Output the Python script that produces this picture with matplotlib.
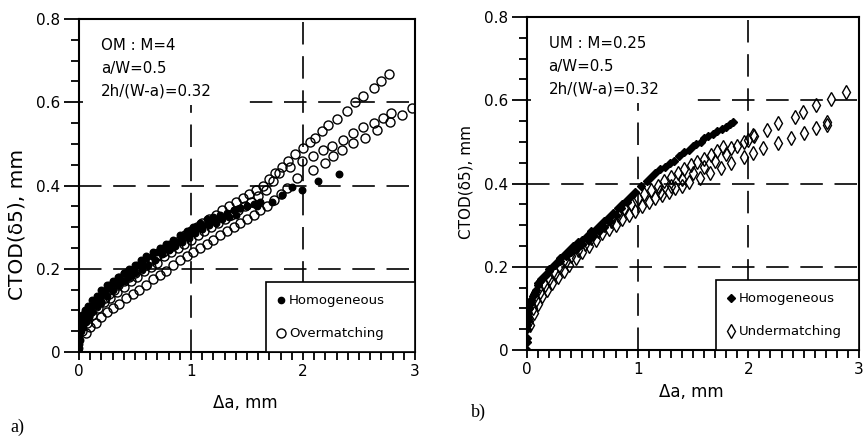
import matplotlib
matplotlib.use("Agg")
import matplotlib.pyplot as plt
from matplotlib.patches import Rectangle
from matplotlib.lines import Line2D
from matplotlib.ticker import MultipleLocator, FixedLocator

plt.rcParams['font.family'] = ['DejaVu Sans']

# ---------------- Panel a) : overmatching ----------------
a_hom1_x = [0, 0, 0, 0.01, 0.01, 0.02, 0.03, 0.04, 0.05, 0.07, 0.09, 0.11, 0.13, 0.15, 0.18, 0.21, 0.24,
            0.27, 0.30, 0.33, 0.36, 0.40, 0.44, 0.48, 0.52, 0.56, 0.60, 0.65, 0.70, 0.75, 0.80, 0.85, 0.90,
            0.95, 1.00, 1.05, 1.10, 1.15, 1.20, 1.26, 1.32, 1.38, 1.44, 1.50, 1.59, 1.72, 1.81, 1.90, 1.99,
            2.13, 2.32]
a_hom1_y = [0.0, 0.02, 0.04, 0.05, 0.07, 0.08, 0.085, 0.09, 0.095, 0.10, 0.105, 0.11, 0.115, 0.12, 0.13,
            0.14, 0.15, 0.16, 0.165, 0.17, 0.18, 0.19, 0.195, 0.20, 0.21, 0.215, 0.225, 0.23, 0.24, 0.25,
            0.26, 0.265, 0.27, 0.28, 0.29, 0.30, 0.305, 0.31, 0.32, 0.325, 0.33, 0.34, 0.345, 0.35, 0.35,
            0.36, 0.377, 0.397, 0.39, 0.41, 0.428]
a_hom2_x = [0, 0, 0.01, 0.02, 0.03, 0.05, 0.08, 0.12, 0.16, 0.20, 0.25, 0.30, 0.35, 0.40, 0.45, 0.50, 0.55,
            0.60, 0.66, 0.72, 0.78, 0.84, 0.90, 0.96, 1.02, 1.08, 1.14, 1.20, 1.26, 1.32, 1.38, 1.44, 1.50,
            1.56, 1.62]
a_hom2_y = [0.03, 0.06, 0.065, 0.08, 0.09, 0.10, 0.11, 0.125, 0.135, 0.15, 0.16, 0.17, 0.18, 0.19, 0.20,
            0.21, 0.22, 0.23, 0.24, 0.25, 0.26, 0.27, 0.28, 0.29, 0.30, 0.31, 0.32, 0.325, 0.33, 0.335,
            0.34, 0.345, 0.35, 0.355, 0.36]
a_hom3_x = [0, 0.01, 0.02, 0.04, 0.06, 0.09, 0.12, 0.16, 0.20, 0.25, 0.30, 0.35, 0.40, 0.45, 0.50, 0.56,
            0.62, 0.68, 0.74, 0.80, 0.86, 0.92, 0.98, 1.04, 1.10, 1.16, 1.22, 1.28, 1.34, 1.40]
a_hom3_y = [0.01, 0.03, 0.05, 0.06, 0.075, 0.085, 0.095, 0.11, 0.12, 0.135, 0.15, 0.16, 0.17, 0.18, 0.19,
            0.20, 0.21, 0.22, 0.235, 0.245, 0.255, 0.265, 0.275, 0.285, 0.295, 0.305, 0.31, 0.32, 0.325,
            0.33]

a_om1_x = [0.02, 0.05, 0.08, 0.11, 0.15, 0.19, 0.23, 0.27, 0.31, 0.35, 0.40, 0.45, 0.50, 0.55, 0.60, 0.65,
           0.70, 0.75, 0.80, 0.85, 0.90, 0.95, 1.00, 1.05, 1.10, 1.16, 1.22, 1.28, 1.34, 1.40, 1.46, 1.52,
           1.58, 1.64, 1.70, 1.75, 1.81, 1.87, 1.93, 2.00, 2.06, 2.11, 2.17, 2.22, 2.30, 2.39, 2.46, 2.54,
           2.63, 2.70, 2.77]
a_om1_y = [0.06, 0.075, 0.09, 0.10, 0.11, 0.12, 0.13, 0.14, 0.15, 0.16, 0.17, 0.18, 0.19, 0.20, 0.21, 0.22,
           0.23, 0.24, 0.25, 0.26, 0.27, 0.28, 0.29, 0.30, 0.31, 0.32, 0.33, 0.34, 0.35, 0.36, 0.37, 0.38,
           0.39, 0.40, 0.415, 0.43, 0.445, 0.46, 0.475, 0.49, 0.505, 0.515, 0.53, 0.545, 0.56, 0.58, 0.60,
           0.615, 0.635, 0.65, 0.668]
a_om2_x = [0.03, 0.07, 0.12, 0.17, 0.22, 0.28, 0.34, 0.40, 0.46, 0.52, 0.58, 0.64, 0.70, 0.76, 0.82, 0.88,
           0.94, 1.00, 1.06, 1.12, 1.18, 1.24, 1.30, 1.36, 1.42, 1.48, 1.54, 1.60, 1.67, 1.73, 1.79, 1.88,
           1.99, 2.09, 2.18, 2.26, 2.36, 2.45, 2.54, 2.63, 2.71, 2.79, 2.88, 2.97]
a_om2_y = [0.05, 0.07, 0.09, 0.105, 0.12, 0.13, 0.145, 0.155, 0.17, 0.18, 0.195, 0.205, 0.215, 0.23, 0.24,
           0.25, 0.26, 0.27, 0.28, 0.29, 0.30, 0.31, 0.32, 0.33, 0.34, 0.35, 0.36, 0.375, 0.39, 0.41, 0.43,
           0.445, 0.46, 0.47, 0.485, 0.495, 0.51, 0.525, 0.54, 0.55, 0.562, 0.574, 0.57, 0.586]
a_om3_x = [0.06, 0.10, 0.15, 0.20, 0.25, 0.30, 0.36, 0.42, 0.48, 0.54, 0.60, 0.66, 0.72, 0.78, 0.84, 0.90,
           0.96, 1.02, 1.08, 1.14, 1.20, 1.26, 1.32, 1.38, 1.44, 1.50, 1.56, 1.62, 1.68, 1.74, 1.80, 1.86,
           1.95, 2.09, 2.20, 2.27, 2.35, 2.45, 2.55, 2.66, 2.78]
a_om3_y = [0.045, 0.06, 0.07, 0.085, 0.095, 0.105, 0.115, 0.13, 0.14, 0.15, 0.16, 0.175, 0.185, 0.195,
           0.21, 0.22, 0.23, 0.24, 0.25, 0.26, 0.27, 0.28, 0.29, 0.30, 0.31, 0.32, 0.33, 0.34, 0.35, 0.365,
           0.38, 0.395, 0.418, 0.437, 0.454, 0.47, 0.486, 0.502, 0.514, 0.534, 0.553]

# ---------------- Panel b) : undermatching ----------------
b_hom1_x = [0, 0, 0, 0.01, 0.01, 0.02, 0.03, 0.04, 0.05, 0.06, 0.08, 0.10, 0.12, 0.14, 0.17, 0.20, 0.23,
            0.26, 0.30, 0.34, 0.38, 0.42, 0.46, 0.50, 0.54, 0.58, 0.62, 0.66, 0.70, 0.74, 0.78, 0.82, 0.86,
            0.90, 0.94, 0.98, 1.03, 1.08, 1.12, 1.16, 1.20, 1.25, 1.29, 1.33, 1.37, 1.42, 1.46, 1.50, 1.53,
            1.57, 1.60, 1.64, 1.68, 1.72, 1.76, 1.80, 1.83, 1.86]
b_hom1_y = [0.0, 0.03, 0.05, 0.07, 0.09, 0.10, 0.11, 0.12, 0.13, 0.135, 0.145, 0.155, 0.165, 0.17, 0.18,
            0.19, 0.20, 0.21, 0.22, 0.23, 0.24, 0.25, 0.26, 0.265, 0.275, 0.285, 0.29, 0.30, 0.31, 0.32,
            0.33, 0.34, 0.35, 0.36, 0.37, 0.38, 0.395, 0.405, 0.415, 0.425, 0.435, 0.44, 0.45, 0.455, 0.465,
            0.475, 0.48, 0.49, 0.495, 0.50, 0.51, 0.515, 0.52, 0.527, 0.532, 0.536, 0.542, 0.548]
b_hom2_x = [0, 0, 0.01, 0.02, 0.04, 0.07, 0.10, 0.13, 0.16, 0.20, 0.25, 0.30, 0.35, 0.40, 0.45, 0.50, 0.55,
            0.60, 0.65, 0.70, 0.75, 0.80, 0.85, 0.90]
b_hom2_y = [0.02, 0.06, 0.08, 0.10, 0.12, 0.14, 0.16, 0.17, 0.18, 0.195, 0.205, 0.215, 0.225, 0.235, 0.245,
            0.255, 0.265, 0.275, 0.285, 0.295, 0.31, 0.325, 0.34, 0.355]

b_um1_x = [0.02, 0.05, 0.08, 0.12, 0.16, 0.20, 0.25, 0.30, 0.35, 0.40, 0.46, 0.52, 0.58, 0.64, 0.70, 0.76,
           0.82, 0.88, 0.94, 1.00, 1.06, 1.12, 1.18, 1.24, 1.30, 1.36, 1.42, 1.48, 1.54, 1.60, 1.66, 1.72,
           1.77, 1.84, 1.96, 2.04, 2.17, 2.27, 2.42, 2.49, 2.61, 2.75, 2.88]
b_um1_y = [0.07, 0.10, 0.12, 0.14, 0.155, 0.17, 0.185, 0.20, 0.215, 0.225, 0.24, 0.255, 0.27, 0.285, 0.30,
           0.31, 0.325, 0.34, 0.35, 0.365, 0.375, 0.385, 0.395, 0.405, 0.415, 0.425, 0.435, 0.445, 0.452,
           0.46, 0.468, 0.477, 0.488, 0.486, 0.50, 0.517, 0.529, 0.546, 0.56, 0.572, 0.589, 0.603, 0.62]
b_um2_x = [0.03, 0.06, 0.10, 0.14, 0.18, 0.23, 0.28, 0.33, 0.38, 0.44, 0.50, 0.56, 0.62, 0.68, 0.74, 0.80,
           0.86, 0.92, 0.98, 1.04, 1.10, 1.16, 1.22, 1.28, 1.34, 1.40, 1.46, 1.56, 1.65, 1.75, 1.84, 1.96,
           2.04, 2.13, 2.27, 2.39, 2.50, 2.61, 2.71, 2.71]
b_um2_y = [0.06, 0.09, 0.11, 0.13, 0.145, 0.16, 0.175, 0.19, 0.205, 0.22, 0.235, 0.25, 0.265, 0.28, 0.29,
           0.30, 0.315, 0.325, 0.335, 0.345, 0.355, 0.365, 0.372, 0.38, 0.388, 0.395, 0.404, 0.413, 0.425,
           0.437, 0.45, 0.464, 0.473, 0.486, 0.497, 0.51, 0.521, 0.534, 0.541, 0.548]
b_um3_x = [1.20, 1.30, 1.40, 1.50, 1.60, 1.70, 1.80, 1.90, 2.00, 2.05]
b_um3_y = [0.38, 0.395, 0.41, 0.425, 0.44, 0.455, 0.47, 0.49, 0.505, 0.515]

notes_a = ["OM : M=4", "a/W=0.5", "2h/(W-a)=0.32"]
notes_b = ["UM : M=0.25", "a/W=0.5", "2h/(W-a)=0.32"]
legend_a = ["Homogeneous", "Overmatching"]
legend_b = ["Homogeneous", "Undermatching"]
xlabel = "Δa, mm"
ylabel = "CTOD(δ5), mm"
ytick_vals = [0, 0.2, 0.4, 0.6, 0.8]
ytick_labels = ["0", "0.2", "0.4", "0.6", "0.8"]
xtick_vals = [0, 1, 2, 3]

fig = plt.figure(figsize=(8.68, 4.37), dpi=100)
ax1 = fig.add_axes([79/868, 1-352/437, 336/868, 333/437])
ax2 = fig.add_axes([527/868, 1-350/437, 332/868, 333/437])


def style(ax, ylab_size, ylab_xy, xlab_y):
    ax.set_xlim(0, 3)
    ax.set_ylim(0, 0.8)
    for s in ax.spines.values():
        s.set_linewidth(1.5)
    ax.set_axisbelow(True)
    ax.grid(True, which='major', color='black', linewidth=1.2, linestyle=(0, (13.5, 7)))
    ax.xaxis.set_major_locator(FixedLocator(xtick_vals))
    ax.xaxis.set_minor_locator(MultipleLocator(0.1))
    ax.yaxis.set_major_locator(FixedLocator(ytick_vals))
    ax.yaxis.set_minor_locator(MultipleLocator(0.05))
    ax.set_yticklabels(ytick_labels)
    ax.set_xticklabels([str(v) for v in xtick_vals])
    ax.tick_params(axis='y', which='major', direction='out', length=11, width=1.3,
                   labelsize=11, pad=2.5, right=False)
    ax.tick_params(axis='y', which='minor', direction='out', length=5.5, width=1.3, right=False)
    ax.tick_params(axis='x', which='major', direction='out', length=5.5, width=1.3,
                   labelsize=11, pad=3, top=False)
    ax.tick_params(axis='x', which='minor', direction='out', length=5.5, width=1.3, top=False)
    ax.set_xlabel(xlabel, fontsize=12)
    ax.xaxis.set_label_coords(0.495, xlab_y)
    ax.set_ylabel(ylabel, fontsize=ylab_size, va='center')
    ax.yaxis.set_label_coords(*ylab_xy)
    ax.add_patch(Rectangle((0.012, 0.742), 0.478, 0.25, transform=ax.transAxes,
                           facecolor='white', edgecolor='none', zorder=1))


style(ax1, 14.5, (-0.185, 0.384), -0.126)
style(ax2, 11, (-0.183, 0.505), -0.099)

# panel a markers
for xs, ys in [(a_om1_x, a_om1_y), (a_om2_x, a_om2_y), (a_om3_x, a_om3_y)]:
    ax1.plot(xs, ys, 'o', ms=6.5, mfc='none', mec='black', mew=1.0, zorder=2)
for xs, ys in [(a_hom1_x, a_hom1_y), (a_hom2_x, a_hom2_y), (a_hom3_x, a_hom3_y)]:
    ax1.plot(xs, ys, 'o', ms=4.7, color='black', zorder=3)

# panel b markers
for xs, ys in [(b_um1_x, b_um1_y), (b_um2_x, b_um2_y), (b_um3_x, b_um3_y)]:
    ax2.plot(xs, ys, 'd', ms=7, mfc='none', mec='black', mew=1.0, zorder=2)
for xs, ys in [(b_hom1_x, b_hom1_y), (b_hom2_x, b_hom2_y)]:
    ax2.plot(xs, ys, 'D', ms=4.2, color='black', zorder=3)

# legends
h_a = [Line2D([], [], ls='none', marker='o', ms=4.5, color='black'),
       Line2D([], [], ls='none', marker='o', ms=6.5, mfc='none', mec='black', mew=1.0)]
h_b = [Line2D([], [], ls='none', marker='D', ms=4.2, color='black'),
       Line2D([], [], ls='none', marker='d', ms=7, mfc='none', mec='black', mew=1.0)]
for ax, h, labs, x0 in [(ax1, h_a, legend_a, (266 - 79) / 336),
                        (ax2, h_b, legend_b, (716 - 527) / 332)]:
    leg = ax.legend(h, labs, loc='lower left', bbox_to_anchor=(x0, 0, 1 - x0, 0.2),
                    mode='expand', borderaxespad=0,
                    fontsize=9.5, frameon=True, fancybox=False, edgecolor='black', framealpha=1,
                    handlelength=0.4, handletextpad=0.45, labelspacing=1.5, borderpad=0.9)
    leg.get_frame().set_linewidth(1.2)

for ax, notes in [(ax1, notes_a), (ax2, notes_b)]:
    for i, t in enumerate(notes):
        ax.text(0.065, 0.92 - i * 0.068, t, transform=ax.transAxes, fontsize=10.8,
                va='center', ha='left', zorder=4)

fig.text(10/868, 1-427/437, "a)", fontsize=13, family='Liberation Serif', va='center', ha='left')
fig.text(471/868, 1-412/437, "b)", fontsize=13, family='Liberation Serif', va='center', ha='left')

fig.savefig("out.png", dpi=100)
